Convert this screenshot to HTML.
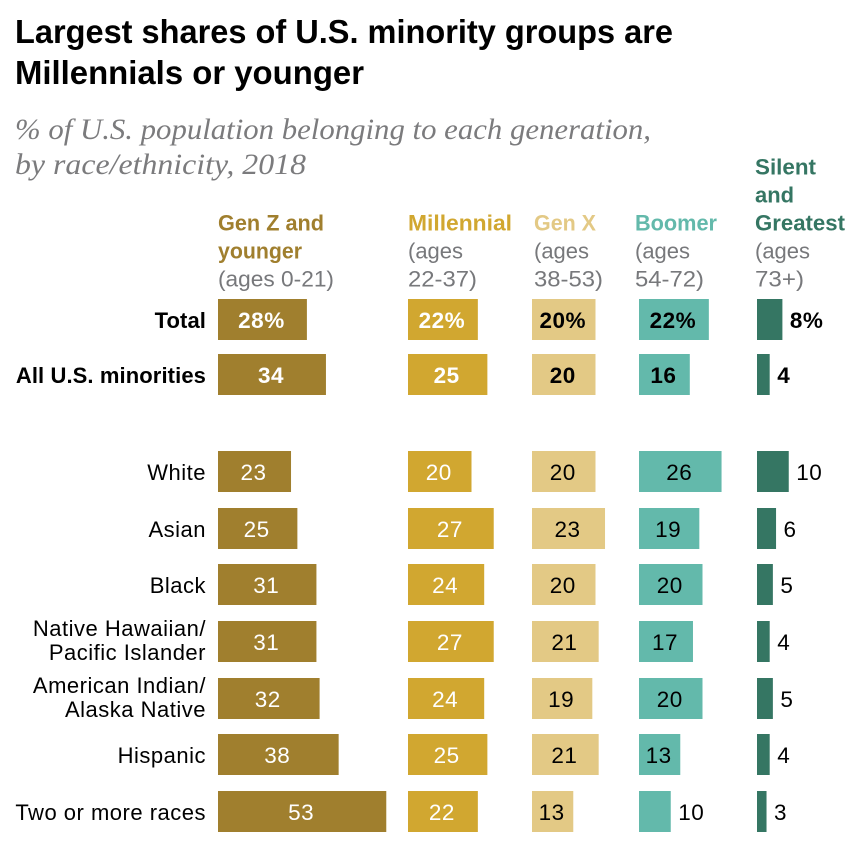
<!DOCTYPE html>
<html lang="en">
<head>
<meta charset="utf-8">
<title>Largest shares of U.S. minority groups are Millennials or younger</title>
<style>
html,body{margin:0;padding:0;background:#fff;width:858px;height:850px;overflow:hidden}
svg{display:block}
text{font-family:"Liberation Sans",Arial,sans-serif}
.title{font-size:33px;font-weight:700;fill:#000}
.sub{font-family:"Liberation Serif",serif;font-style:italic;font-size:30px;fill:#7b7b7d}
.head{font-size:22px;font-weight:700}
.age{font-size:22px;fill:#77787b}
.rl{font-size:22px;fill:#000;text-anchor:end}
.val{font-size:22.5px}
.b{font-weight:700}
</style>
</head>
<body>
<svg id="chart" width="858" height="850" viewBox="0 0 858 850" xmlns="http://www.w3.org/2000/svg">
  <rect width="858" height="850" fill="#fff"/>
  <text class="title" x="15" y="43" textLength="658" lengthAdjust="spacingAndGlyphs">Largest shares of U.S. minority groups are</text>
  <text class="title" x="15" y="84" textLength="349" lengthAdjust="spacingAndGlyphs">Millennials or younger</text>
  <text class="sub" x="15" y="139" textLength="636" lengthAdjust="spacingAndGlyphs">% of U.S. population belonging to each generation,</text>
  <text class="sub" x="15" y="174" textLength="291" lengthAdjust="spacingAndGlyphs">by race/ethnicity, 2018</text>

  <g>
    <text class="head" x="218" y="230.5" fill="#a07f2e" textLength="106" lengthAdjust="spacingAndGlyphs">Gen Z and</text>
    <text class="head" x="218" y="258.5" fill="#a07f2e" textLength="84" lengthAdjust="spacingAndGlyphs">younger</text>
    <text class="age" x="218" y="286.5" textLength="116" lengthAdjust="spacingAndGlyphs">(ages 0-21)</text>
  </g>
  <g>
    <text class="head" x="408" y="230.5" fill="#d1a730" textLength="104" lengthAdjust="spacingAndGlyphs">Millennial</text>
    <text class="age" x="408" y="258.5" textLength="55" lengthAdjust="spacingAndGlyphs">(ages</text>
    <text class="age" x="408" y="286.5" textLength="69" lengthAdjust="spacingAndGlyphs">22-37)</text>
  </g>
  <g>
    <text class="head" x="534" y="230.5" fill="#e3c985" textLength="62" lengthAdjust="spacingAndGlyphs">Gen X</text>
    <text class="age" x="534" y="258.5" textLength="55" lengthAdjust="spacingAndGlyphs">(ages</text>
    <text class="age" x="534" y="286.5" textLength="69" lengthAdjust="spacingAndGlyphs">38-53)</text>
  </g>
  <g>
    <text class="head" x="635" y="230.5" fill="#63b9ab" textLength="82" lengthAdjust="spacingAndGlyphs">Boomer</text>
    <text class="age" x="635" y="258.5" textLength="55" lengthAdjust="spacingAndGlyphs">(ages</text>
    <text class="age" x="635" y="286.5" textLength="69" lengthAdjust="spacingAndGlyphs">54-72)</text>
  </g>
  <g>
    <text class="head" x="755" y="174.5" fill="#357663" textLength="61" lengthAdjust="spacingAndGlyphs">Silent</text>
    <text class="head" x="755" y="202.5" fill="#357663" textLength="39" lengthAdjust="spacingAndGlyphs">and</text>
    <text class="head" x="755" y="230.5" fill="#357663" textLength="90" lengthAdjust="spacingAndGlyphs">Greatest</text>
    <text class="age" x="755" y="258.5" textLength="55" lengthAdjust="spacingAndGlyphs">(ages</text>
    <text class="age" x="755" y="286.5" textLength="49" lengthAdjust="spacingAndGlyphs">73+)</text>
  </g>
  <g id="rows"></g>
</svg>
<script>
const categories = ["Total", "All U.S. minorities", "White", "Asian", "Black", "Native Hawaiian/|Pacific Islander", "American Indian/|Alaska Native", "Hispanic", "Two or more races"];
const genZ = [28, 34, 23, 25, 31, 31, 32, 38, 53];
const millennial = [22, 25, 20, 27, 24, 27, 24, 25, 22];
const genX = [20, 20, 20, 23, 20, 21, 19, 21, 13];
const boomer = [22, 16, 26, 19, 20, 17, 20, 13, 10];
const silent = [8, 4, 10, 6, 5, 4, 5, 4, 3];

const NS = "http://www.w3.org/2000/svg";
const host = document.getElementById("rows");
const BAR_H = 41;
function xLen(v) { return v * 3.175; }
function rowY(i) { return i < 2 ? 299 + i * 55 : 451 + (i - 2) * 56.67; }

const columns = [
  { key: "gen-z", values: genZ, x0: 218, fill: "#a07f2e", ink: "#fff" },
  { key: "millennial", values: millennial, x0: 408, fill: "#d1a730", ink: "#fff" },
  { key: "gen-x", values: genX, x0: 532, fill: "#e3c985", ink: "#000" },
  { key: "boomer", values: boomer, x0: 639, fill: "#63b9ab", ink: "#000" },
  { key: "silent", values: silent, x0: 757, fill: "#357663", ink: "#000" }
];

function svgEl(tag) { return document.createElementNS(NS, tag); }

categories.forEach(function (cat, i) {
  const y = Math.round(rowY(i));
  const cy = y + BAR_H / 2;
  const strong = i < 2;
  const slug = cat.toLowerCase().replace(/[^a-z]+/g, "-");

  cat.split("|").forEach(function (line, j, all) {
    const t = svgEl("text");
    
    
    t.setAttribute("class", "rl" + (strong ? " b" : ""));
    t.setAttribute("x", 206);
    t.setAttribute("y", all.length === 1 ? cy + 8.5 : cy - 5.5 + j * 24);
    t.setAttribute("letter-spacing", strong ? "0.1" : "0.5");
    t.textContent = line;
    host.appendChild(t);
  });

  columns.forEach(function (col) {
    const v = col.values[i];
    const w = xLen(v);
    const r = svgEl("rect");
    
    
    r.setAttribute("x", col.x0);
    r.setAttribute("y", y);
    r.setAttribute("width", w);
    r.setAttribute("height", BAR_H);
    r.setAttribute("fill", col.fill);
    host.appendChild(r);

    const inside = v >= 12;
    const t = svgEl("text");
    
    
    t.setAttribute("class", "val" + (strong ? " b" : ""));
    t.setAttribute("x", inside ? col.x0 + w / 2 - 1 : col.x0 + w + 7.5);
    t.setAttribute("y", cy + 8.5);
    t.setAttribute("text-anchor", inside ? "middle" : "start");
    t.setAttribute("fill", inside ? col.ink : "#000");
    t.setAttribute("letter-spacing", "0.5");
    t.textContent = v + (i === 0 ? "%" : "");
    host.appendChild(t);
  });
});
</script>
</body>
</html>
